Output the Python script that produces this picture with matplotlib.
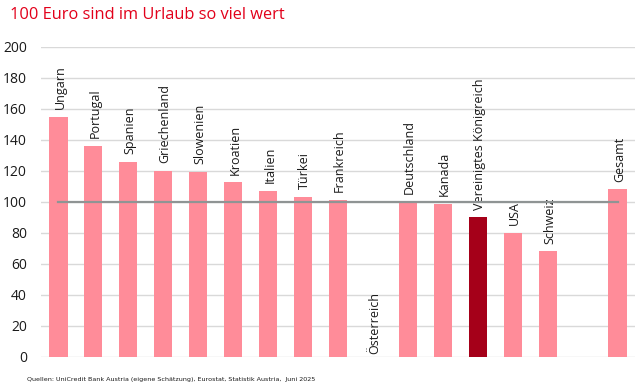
import matplotlib
matplotlib.use("Agg")
import matplotlib.pyplot as plt

plt.rcParams['font.family'] = ['Open Sans', 'DejaVu Sans']

title = "100 Euro sind im Urlaub so viel wert"
source = "Quellen: UniCredit Bank Austria (eigene Schätzung), Eurostat, Statistik Austria,  Juni 2025"
categories = ["Ungarn", "Portugal", "Spanien", "Griechenland", "Slowenien", "Kroatien",
              "Italien", "Türkei", "Frankreich", "Österreich", "Deutschland", "Kanada",
              "Vereinigtes Königreich", "USA", "Schweiz", "", "Gesamt"]
values = [155, 136, 126, 120, 119.5, 112.5, 107, 103, 101.5, None, 100, 98.5,
          90, 80, 68, None, 108]
highlight = "Vereinigtes Königreich"
reference = 100
yticks = [0, 20, 40, 60, 80, 100, 120, 140, 160, 180, 200]

pink = "#ff8c99"
dark = "#a50019"

fig = plt.figure(figsize=(6.43, 3.92), dpi=100)
ax = fig.add_axes([41/643, 1 - 356.7/392, (635 - 41)/643, (356.7 - 47)/392])

for i, (c, v) in enumerate(zip(categories, values)):
    if v is None:
        if c:
            ax.text(i + 0.05, 1.5, c, rotation=90, ha='center', va='bottom',
                    fontsize=9, color='#1a1a1a')
        continue
    col = dark if c == highlight else pink
    ax.bar(i, v, width=0.52, color=col, zorder=2)
    ax.text(i + 0.05, v + 5, c, rotation=90, ha='center', va='bottom',
            fontsize=9, color='#1a1a1a')

ax.plot([0, len(categories) - 1], [reference, reference], color='#8f9494',
        lw=1.6, zorder=3)

ax.set_xlim(-0.5, len(categories) - 0.5)
ax.set_ylim(0, 200)
ax.set_yticks(yticks)
ax.set_yticklabels([str(t) for t in yticks], fontsize=10, color='#1a1a1a')
ax.tick_params(axis='y', length=0, pad=10)
ax.set_xticks([])
ax.grid(axis='y', color='#d9d9d9', lw=1.0, zorder=0)
ax.set_axisbelow(True)
for s in ax.spines.values():
    s.set_visible(False)

fig.text(10/643, 1 - 15/392, title, color='#e2001a', fontsize=11.8,
         ha='left', va='center')
fig.text(27/643, 1 - 380/392, source, color='#1a1a1a', fontsize=4.6,
         ha='left', va='center', family=['DejaVu Sans Condensed', 'DejaVu Sans'])

fig.savefig("out.png", dpi=100)
